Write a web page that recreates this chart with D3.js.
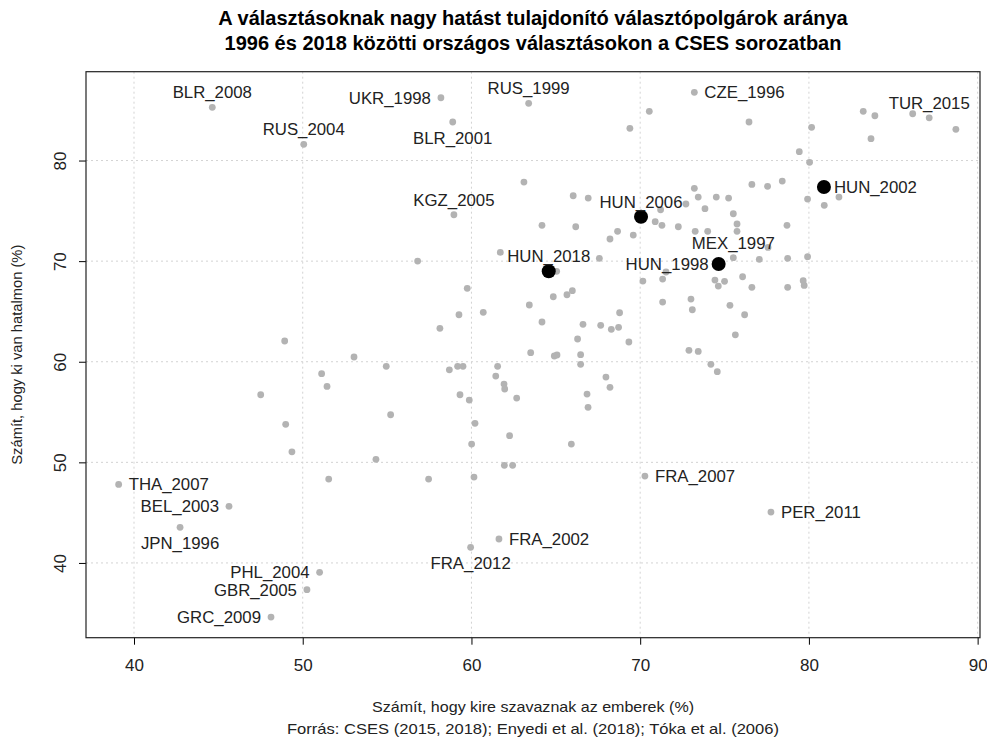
<!DOCTYPE html>
<html>
<head>
<meta charset="utf-8">
<script src="https://cdn.jsdelivr.net/npm/d3@7"></script>
<style>
  body { margin: 0; background: #fff; }
  svg { font-family: "Liberation Sans", Arial, sans-serif; }
</style>
</head>
<body>
<svg id="chart" width="987" height="738"></svg>
<script>
// labelled elections (grey points with a name)
const labeledNames = ["BLR_2008", "RUS_2004", "UKR_1998", "RUS_1999", "BLR_2001", "CZE_1996",
  "TUR_2015", "KGZ_2005", "MEX_1997", "THA_2007", "BEL_2003", "JPN_1996", "PHL_2004",
  "GBR_2005", "GRC_2009", "FRA_2007", "FRA_2002", "FRA_2012", "PER_2011"];
const labeledX = [44.64, 50.06, 58.19, 63.39, 58.89, 73.21, 87.13, 58.96, 75.52, 39.09, 45.63,
  42.73, 51.0, 50.25, 48.12, 70.28, 61.63, 59.95, 77.75];
const labeledY = [85.29, 81.61, 86.24, 85.69, 83.83, 86.78, 84.25, 74.61, 70.34, 47.81, 45.63,
  43.54, 39.07, 37.34, 34.62, 48.64, 42.38, 41.55, 45.06];

// Hungarian elections (black points)
const hungaryNames = ["HUN_1998", "HUN_2002", "HUN_2006", "HUN_2018"];
const hungaryX = [74.65, 80.89, 70.05, 64.58];
const hungaryY = [69.71, 77.37, 74.41, 68.99];

// every other election (grey, no label)
const otherX = [70.54, 69.39, 63.11, 66.03, 66.92, 71.21, 70.89, 71.29, 72.26, 64.18, 66.18, 68.66,
  68.21, 69.59, 61.71, 56.81, 67.58, 76.45, 80.16, 83.22, 83.91, 86.15, 88.71, 83.68, 79.43,
  80.04, 81.78, 80.91, 79.92, 78.42, 77.55, 76.62, 73.21, 73.44, 74.51, 75.24, 72.71, 73.84,
  75.52, 75.74, 75.74, 73.26, 74.0, 78.70, 77.58, 77.06, 78.74, 79.92, 74.43, 75.0, 74.63,
  76.07, 76.62, 78.74, 79.66, 79.72, 73.01, 73.09, 75.32, 76.19, 75.64, 72.89, 73.44, 74.19,
  74.57, 65.05, 71.53, 70.16, 71.33, 71.33, 59.75, 59.26, 60.70, 58.13, 63.43, 64.85, 65.66,
  65.98, 64.18, 66.61, 67.66, 68.29, 68.72, 68.78, 66.29, 69.33, 63.51, 64.91, 65.07, 66.47,
  66.47, 54.95, 58.69, 59.18, 59.50, 61.55, 61.44, 61.93, 61.97, 59.32, 59.87, 62.68, 67.97,
  68.21, 66.85, 66.91, 55.21, 60.21, 62.26, 60.01, 65.92, 48.93, 53.04, 51.12, 51.44, 47.51,
  48.99, 49.36, 54.34, 51.54, 57.46, 60.15, 61.95, 62.44];
const otherY = [84.89, 83.20, 77.86, 76.50, 76.27, 75.11, 73.92, 73.56, 73.42, 73.56, 73.42, 72.96,
  72.20, 72.59, 70.87, 70.01, 70.28, 83.83, 83.30, 84.89, 84.45, 84.65, 83.10, 82.17, 80.88,
  79.82, 76.37, 75.55, 76.17, 77.96, 77.44, 77.63, 77.24, 76.37, 76.37, 76.27, 75.68, 75.21,
  74.71, 73.69, 72.96, 72.96, 72.96, 73.56, 71.36, 70.18, 70.28, 70.44, 68.12, 67.99, 67.52,
  68.45, 67.40, 67.40, 68.05, 67.59, 66.23, 65.17, 65.61, 64.67, 62.68, 61.13, 61.03, 59.74,
  59.01, 68.99, 68.92, 68.02, 68.22, 65.93, 67.30, 64.67, 64.91, 63.32, 65.64, 66.46, 66.66,
  67.06, 63.95, 63.72, 63.62, 63.22, 63.42, 64.87, 62.26, 61.96, 60.90, 60.57, 60.67, 60.70,
  59.74, 59.54, 59.20, 59.54, 59.54, 59.54, 58.58, 57.78, 57.29, 56.72, 56.19, 56.39, 58.48,
  57.46, 56.79, 55.47, 54.73, 53.88, 52.65, 51.82, 51.82, 62.06, 60.47, 58.81, 57.55, 56.72,
  53.78, 51.05, 50.30, 48.34, 48.34, 48.54, 49.70, 49.70];

const xTicks = [40, 50, 60, 70, 80, 90];
const yTicks = [40, 50, 60, 70, 80];

const titleLines = ["A választásoknak nagy hatást tulajdonító választópolgárok aránya",
  "1996 és 2018 közötti országos választásokon a CSES sorozatban"];
const xLabel = "Számít, hogy kire szavaznak az emberek (%)";
const yLabel = "Számít, hogy ki van hatalmon (%)";
const sourceText = "Forrás: CSES (2015, 2018); Enyedi et al. (2018); Tóka et al. (2006)";

// where each name sits relative to its point
const labelSide = {
  BLR_2008: "above", RUS_2004: "above", UKR_1998: "left", RUS_1999: "above", BLR_2001: "below",
  CZE_1996: "right", TUR_2015: "above", KGZ_2005: "above", MEX_1997: "above", THA_2007: "right",
  BEL_2003: "left", JPN_1996: "below", PHL_2004: "left", GBR_2005: "left", GRC_2009: "left",
  FRA_2007: "right", FRA_2002: "right", FRA_2012: "below", PER_2011: "right",
  HUN_1998: "left", HUN_2002: "right", HUN_2006: "above", HUN_2018: "above"
};

const box = { left: 86, right: 980, top: 71.7, bottom: 637.7 };

const svg = d3.select("#chart");

const xScale = d3.scaleLinear().domain([37.155, 90.14]).range([box.left, box.right]);
const yScale = d3.scaleLinear().domain([32.57, 88.83]).range([box.bottom, box.top]);

// grid
const grid = svg.append("g").attr("stroke", "#d3d3d3").attr("stroke-dasharray", "2,3");
grid.selectAll(".gx").data(xTicks).join("line")
  .attr("x1", (d) => xScale(d)).attr("x2", (d) => xScale(d))
  .attr("y1", box.top).attr("y2", box.bottom);
grid.selectAll(".gy").data(yTicks).join("line")
  .attr("y1", (d) => yScale(d)).attr("y2", (d) => yScale(d))
  .attr("x1", box.left).attr("x2", box.right);

// axes
const xAxis = d3.axisBottom(xScale).tickValues(xTicks).tickSize(7).tickPadding(14);
const gx = svg.append("g").attr("transform", `translate(0,${box.bottom})`).call(xAxis);
gx.select(".domain").remove();
gx.selectAll("text").style("font-size", "17px").attr("fill", "#222");

const yAxis = d3.axisLeft(yScale).tickValues(yTicks).tickSize(7);
const gy = svg.append("g").attr("transform", `translate(${box.left},0)`).call(yAxis);
gy.select(".domain").remove();
gy.selectAll("text")
  .style("font-size", "17px").attr("fill", "#222")
  .attr("x", 0).attr("y", 0).attr("dy", 0)
  .attr("text-anchor", "middle")
  .attr("transform", "translate(-20,0) rotate(-90)");

svg.append("rect")
  .attr("x", box.left).attr("y", box.top)
  .attr("width", box.right - box.left).attr("height", box.bottom - box.top)
  .attr("fill", "none").attr("stroke", "#222").attr("stroke-width", 1.2);

// points
const greyData = otherX.map((x, i) => ({ x: x, y: otherY[i] }))
  .concat(labeledX.map((x, i) => ({ x: x, y: labeledY[i] })));
svg.append("g").selectAll("circle").data(greyData).join("circle")
  .attr("cx", (d) => xScale(d.x)).attr("cy", (d) => yScale(d.y))
  .attr("r", 3.4).attr("fill", "#b3b3b3");

const hunData = hungaryX.map((x, i) => ({ x: x, y: hungaryY[i], name: hungaryNames[i] }));
svg.append("g").selectAll("circle").data(hunData).join("circle")
  .attr("cx", (d) => xScale(d.x)).attr("cy", (d) => yScale(d.y))
  .attr("r", 7).attr("fill", "#000");

// labels
const labelData = labeledX.map((x, i) => ({ x: x, y: labeledY[i], name: labeledNames[i] }))
  .concat(hunData);
svg.append("g").selectAll("text").data(labelData).join("text")
  .attr("x", (d) => {
    const side = labelSide[d.name];
    if (side === "left") return xScale(d.x) - 10;
    if (side === "right") return xScale(d.x) + 10;
    return xScale(d.x);
  })
  .attr("y", (d) => {
    const side = labelSide[d.name];
    if (side === "above") return yScale(d.y) - 15;
    if (side === "below") return yScale(d.y) + 16;
    return yScale(d.y);
  })
  .attr("dy", "0.36em")
  .attr("text-anchor", (d) => {
    const side = labelSide[d.name];
    if (side === "left") return "end";
    if (side === "right") return "start";
    return "middle";
  })
  .style("font-size", "16.8px").attr("fill", "#222")
  .text((d) => d.name);

// title and axis titles
svg.append("g").selectAll("text").data(titleLines).join("text")
  .attr("x", (box.left + box.right) / 2)
  .attr("y", (d, i) => 25 + i * 25)
  .attr("text-anchor", "middle")
  .style("font-size", "20px").style("font-weight", "bold")
  .text((d) => d);

svg.append("text")
  .attr("x", (box.left + box.right) / 2).attr("y", 712)
  .attr("text-anchor", "middle").style("font-size", "15px").attr("fill", "#222")
  .attr("textLength", 322).attr("lengthAdjust", "spacingAndGlyphs")
  .text(xLabel);
svg.append("text")
  .attr("x", (box.left + box.right) / 2).attr("y", 734)
  .attr("text-anchor", "middle").style("font-size", "15px").attr("fill", "#222")
  .attr("textLength", 492).attr("lengthAdjust", "spacingAndGlyphs")
  .text(sourceText);
svg.append("text")
  .attr("transform", `translate(22,${(box.top + box.bottom) / 2}) rotate(-90)`)
  .attr("text-anchor", "middle").style("font-size", "15px").attr("fill", "#222")
  .attr("textLength", 220).attr("lengthAdjust", "spacingAndGlyphs")
  .text(yLabel);
</script>
</body>
</html>
